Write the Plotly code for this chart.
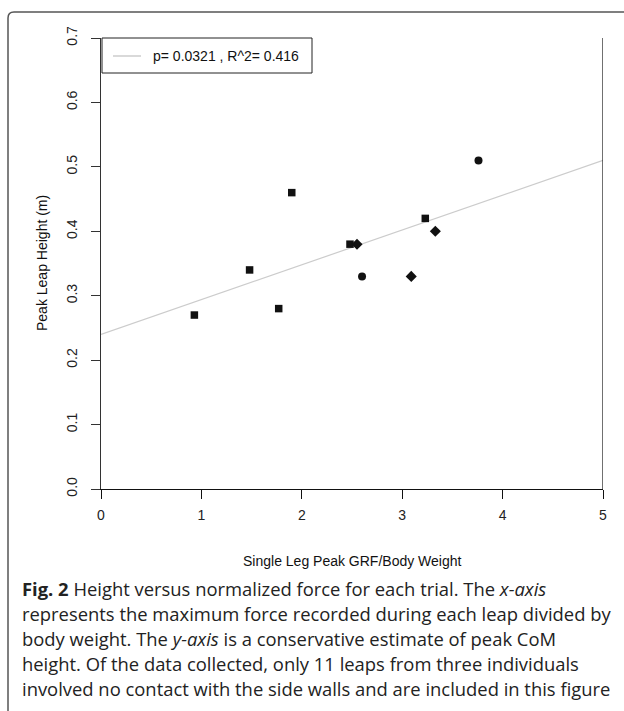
import plotly.graph_objects as go

# ---- data ----
sq_x = [0.93, 1.48, 1.77, 1.90, 2.48, 3.23]
sq_y = [0.27, 0.34, 0.28, 0.46, 0.38, 0.42]
ci_x = [2.60, 3.76]
ci_y = [0.33, 0.51]
di_x = [2.55, 3.09, 3.33]
di_y = [0.38, 0.33, 0.40]
fit_intercept = 0.24
fit_slope = 0.054
fit_x = [0, 5]
x_ticks = [0, 1, 2, 3, 4, 5]
y_ticks = [0.0, 0.1, 0.2, 0.3, 0.4, 0.5, 0.6, 0.7]
legend_text = "p= 0.0321 , R^2= 0.416"
x_title = "Single Leg Peak GRF/Body Weight"
y_title = "Peak Leap Height (m)"
caption_lines = [
    "<b>Fig. 2</b> Height versus normalized force for each trial. The <i>x-axis</i>",
    "represents the maximum force recorded during each leap divided by",
    "body weight. The <i>y-axis</i> is a conservative estimate of peak CoM",
    "height. Of the data collected, only 11 leaps from three individuals",
    "involved no contact with the side walls and are included in this figure",
]

W, H = 624, 711
L, R, T, B = 101, 603, 38, 489


def px(xp):
    return (xp - L) / (R - L)


def py(yp):
    return (B - yp) / (B - T)


fig = go.Figure()
fit_y = [fit_intercept + fit_slope * v for v in fit_x]
fig.add_trace(go.Scatter(x=fit_x, y=fit_y, mode="lines",
                         line=dict(color="#cccccc", width=1.2),
                         hoverinfo="skip", showlegend=False))
mk = dict(color="#111111")
fig.add_trace(go.Scatter(x=sq_x, y=sq_y, mode="markers",
                         marker=dict(symbol="square", size=7.5, **mk), showlegend=False))
fig.add_trace(go.Scatter(x=ci_x, y=ci_y, mode="markers",
                         marker=dict(symbol="circle", size=8, **mk), showlegend=False))
fig.add_trace(go.Scatter(x=di_x, y=di_y, mode="markers",
                         marker=dict(symbol="diamond", size=8.5, **mk), showlegend=False))

FONT = "Liberation Sans, Arial, sans-serif"
tickfont = dict(family=FONT, size=14, color="#222222")
fig.update_xaxes(range=[0, 5], tickvals=x_ticks, ticktext=[str(v) for v in x_ticks],
                 showgrid=False, zeroline=False, showline=True, linecolor="#111111",
                 linewidth=1.2, ticks="outside", ticklen=9, tickwidth=1.2,
                 tickcolor="#111111", tickfont=tickfont, ticklabelstandoff=4, fixedrange=True)
fig.update_yaxes(range=[0, 0.7], tickvals=y_ticks, ticktext=[f"{v:.1f}" for v in y_ticks],
                 showgrid=False, zeroline=False, showline=True, linecolor="#333333",
                 linewidth=1.2, ticks="outside", ticklen=9, tickwidth=1.2,
                 tickcolor="#333333", tickfont=tickfont, tickangle=-90,
                 ticklabelstandoff=8, fixedrange=True)

shapes = []
# right vertical line at x=5
shapes.append(dict(type="line", xref="x", yref="y", x0=5, x1=5, y0=0, y1=0.7,
                   line=dict(color="#111111", width=1.2)))
# legend box
shapes.append(dict(type="rect", xref="paper", yref="paper",
                   x0=px(102), x1=px(312), y0=py(73), y1=py(38),
                   line=dict(color="#222222", width=1), fillcolor="white", layer="above"))
shapes.append(dict(type="line", xref="paper", yref="paper",
                   x0=px(113), x1=px(141), y0=py(56), y1=py(56),
                   line=dict(color="#cccccc", width=1.5), layer="above"))
# card border with rounded top-left corner
x0p, y0p = px(8), py(12)
rx, ry = 6 / (R - L), 6 / (B - T)
path = (f"M {x0p},{py(720)} L {x0p},{y0p - ry} Q {x0p},{y0p} {x0p + rx},{y0p} "
        f"L {px(640)},{y0p}")
shapes.append(dict(type="path", xref="paper", yref="paper", path=path,
                   line=dict(color="#555555", width=1.5)))

ann = []
ann.append(dict(text=legend_text, xref="paper", yref="paper", x=px(151), y=py(56),
                xanchor="left", yanchor="middle", showarrow=False,
                font=dict(family=FONT, size=14, color="#111111")))
ann.append(dict(text=x_title, xref="paper", yref="paper", x=px(352), y=py(561),
                xanchor="center", yanchor="middle", showarrow=False,
                font=dict(family=FONT, size=14, color="#111111")))
ann.append(dict(text=y_title, xref="paper", yref="paper", x=px(42), y=py(263),
                xanchor="center", yanchor="middle", showarrow=False, textangle=-90,
                font=dict(family=FONT, size=14, color="#111111")))
for i, line in enumerate(caption_lines):
    ann.append(dict(text=line, xref="paper", yref="paper", x=px(20), y=py(588 + 25 * i),
                    xanchor="left", yanchor="middle", showarrow=False,
                    font=dict(family="Open Sans, Noto Sans, sans-serif", size=18.4, color="#222222")))

fig.update_layout(width=W, height=H, margin=dict(l=L, r=W - R, t=T, b=H - B),
                  paper_bgcolor="white", plot_bgcolor="white",
                  shapes=shapes, annotations=ann, showlegend=False)
fig.write_html("out.html", config={"displayModeBar": False},
               post_script="document.body.style.margin='0';")
